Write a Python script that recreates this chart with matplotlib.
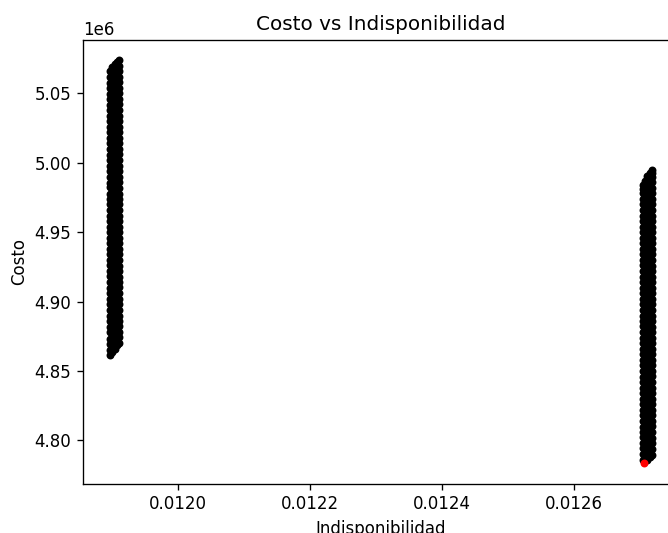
import numpy as np
import matplotlib
matplotlib.use("Agg")
import matplotlib.pyplot as plt

# cluster izquierdo (indisponibilidad ~0.01190), costo en millones
# cada lista de costos corresponde a un valor de indisponibilidad de izq_x
izq_x = [0.0118976, 0.0119011, 0.0119046, 0.0119081, 0.0119116]
izq_y1 = [4.8615, 4.8652, 4.8698, 4.8731, 4.8779, 4.8816, 4.8862, 4.8897, 4.8941, 4.8983,
          4.9018, 4.9064, 4.9099, 4.9142, 4.9185, 4.9221, 4.9263, 4.9298, 4.9344, 4.9381,
          4.9419, 4.9462, 4.9503, 4.9537, 4.9584, 4.9618, 4.9661, 4.9702, 4.9739, 4.9776,
          4.9823, 4.9858, 4.9897, 4.9943, 4.9978, 5.0021, 5.0059, 5.0098, 5.0142, 5.0177,
          5.0223, 5.0258, 5.0301, 5.0339, 5.0382, 5.0418, 5.0463, 5.0497, 5.0541, 5.0579,
          5.0618, 5.0660]
izq_y2 = [4.8638, 4.8679, 4.8721, 4.8760, 4.8801, 4.8842, 4.8880, 4.8919, 4.8962, 4.9001,
          4.9040, 4.9082, 4.9121, 4.9160, 4.9201, 4.9243, 4.9280, 4.9320, 4.9362, 4.9401,
          4.9440, 4.9481, 4.9522, 4.9560, 4.9601, 4.9640, 4.9681, 4.9721, 4.9760, 4.9800,
          4.9842, 4.9880, 4.9919, 4.9961, 5.0000, 5.0041, 5.0080, 5.0120, 5.0161, 5.0199,
          5.0240, 5.0281, 5.0320, 5.0360, 5.0401, 5.0440, 5.0480, 5.0521, 5.0560, 5.0599,
          5.0641, 5.0690]
izq_y3 = [4.8660, 4.8717, 4.8758, 4.8799, 4.8838, 4.8879, 4.8921, 4.8960, 4.9002, 4.9041,
          4.9083, 4.9120, 4.9163, 4.9204, 4.9242, 4.9281, 4.9322, 4.9363, 4.9400, 4.9441,
          4.9483, 4.9521, 4.9562, 4.9600, 4.9641, 4.9682, 4.9720, 4.9759, 4.9801, 4.9840,
          4.9879, 4.9921, 4.9960, 5.0001, 5.0040, 5.0079, 5.0121, 5.0160, 5.0200, 5.0241,
          5.0280, 5.0321, 5.0360, 5.0401, 5.0440, 5.0481, 5.0520, 5.0561, 5.0600, 5.0640,
          5.0680, 5.0712]
izq_y4 = [4.8691, 4.8739, 4.8778, 4.8820, 4.8859, 4.8900, 4.8938, 4.8979, 4.9021, 4.9060,
          4.9099, 4.9139, 4.9180, 4.9222, 4.9259, 4.9300, 4.9341, 4.9380, 4.9419, 4.9460,
          4.9499, 4.9541, 4.9580, 4.9619, 4.9661, 4.9700, 4.9739, 4.9780, 4.9820, 4.9859,
          4.9900, 4.9941, 4.9979, 5.0020, 5.0060, 5.0101, 5.0139, 5.0180, 5.0219, 5.0261,
          5.0300, 5.0339, 5.0381, 5.0420, 5.0459, 5.0500, 5.0541, 5.0579, 5.0620, 5.0660,
          5.0700, 5.0725]
izq_y5 = [4.8702, 4.8743, 4.8781, 4.8823, 4.8862, 4.8899, 4.8942, 4.8981, 4.9019, 4.9061,
          4.9102, 4.9140, 4.9179, 4.9223, 4.9260, 4.9301, 4.9340, 4.9382, 4.9421, 4.9459,
          4.9501, 4.9540, 4.9582, 4.9620, 4.9659, 4.9702, 4.9741, 4.9779, 4.9821, 4.9860,
          4.9900, 4.9942, 4.9980, 5.0019, 5.0061, 5.0100, 5.0140, 5.0179, 5.0222, 5.0260,
          5.0299, 5.0341, 5.0380, 5.0422, 5.0460, 5.0501, 5.0540, 5.0581, 5.0620, 5.0661,
          5.0699, 5.0738]

# cluster derecho (indisponibilidad ~0.01271)
der_x = [0.0127038, 0.0127073, 0.0127108, 0.0127143, 0.0127178]
der_y1 = [4.7862, 4.7901, 4.7943, 4.7980, 4.8022, 4.8061, 4.8099, 4.8142, 4.8181, 4.8219,
          4.8262, 4.8300, 4.8341, 4.8380, 4.8421, 4.8459, 4.8502, 4.8540, 4.8579, 4.8622,
          4.8661, 4.8700, 4.8741, 4.8779, 4.8821, 4.8860, 4.8899, 4.8941, 4.8980, 4.9021,
          4.9059, 4.9100, 4.9142, 4.9180, 4.9219, 4.9261, 4.9300, 4.9340, 4.9379, 4.9421,
          4.9460, 4.9500, 4.9541, 4.9579, 4.9620, 4.9661, 4.9700, 4.9740, 4.9781, 4.9812,
          4.9840]
der_y2 = [4.7881, 4.7919, 4.7961, 4.8000, 4.8040, 4.8081, 4.8119, 4.8160, 4.8201, 4.8240,
          4.8280, 4.8321, 4.8360, 4.8399, 4.8441, 4.8480, 4.8520, 4.8561, 4.8600, 4.8639,
          4.8680, 4.8721, 4.8760, 4.8799, 4.8840, 4.8881, 4.8919, 4.8960, 4.9001, 4.9041,
          4.9080, 4.9119, 4.9161, 4.9200, 4.9241, 4.9280, 4.9319, 4.9361, 4.9400, 4.9440,
          4.9481, 4.9520, 4.9560, 4.9599, 4.9641, 4.9680, 4.9721, 4.9761, 4.9800, 4.9838,
          4.9870]
der_y3 = [4.7862, 4.7921, 4.7960, 4.8001, 4.8042, 4.8080, 4.8120, 4.8161, 4.8200, 4.8239,
          4.8281, 4.8320, 4.8361, 4.8400, 4.8440, 4.8481, 4.8519, 4.8560, 4.8601, 4.8640,
          4.8681, 4.8719, 4.8760, 4.8800, 4.8841, 4.8880, 4.8920, 4.8961, 4.9000, 4.9040,
          4.9081, 4.9120, 4.9160, 4.9201, 4.9240, 4.9281, 4.9320, 4.9360, 4.9401, 4.9441,
          4.9480, 4.9520, 4.9561, 4.9600, 4.9640, 4.9681, 4.9720, 4.9760, 4.9801, 4.9840,
          4.9872, 4.9905]
der_y4 = [4.7879, 4.7918, 4.7959, 4.8001, 4.8039, 4.8080, 4.8121, 4.8159, 4.8199, 4.8241,
          4.8280, 4.8319, 4.8360, 4.8401, 4.8440, 4.8479, 4.8521, 4.8560, 4.8600, 4.8641,
          4.8679, 4.8720, 4.8761, 4.8800, 4.8839, 4.8880, 4.8920, 4.8960, 4.9000, 4.9039,
          4.9080, 4.9121, 4.9160, 4.9199, 4.9240, 4.9281, 4.9320, 4.9359, 4.9400, 4.9441,
          4.9480, 4.9519, 4.9560, 4.9601, 4.9640, 4.9680, 4.9720, 4.9759, 4.9800, 4.9840,
          4.9880, 4.9912, 4.9930]
der_y5 = [4.7897, 4.7938, 4.7979, 4.8020, 4.8059, 4.8101, 4.8140, 4.8180, 4.8221, 4.8260,
          4.8299, 4.8341, 4.8380, 4.8420, 4.8461, 4.8500, 4.8540, 4.8579, 4.8620, 4.8661,
          4.8700, 4.8739, 4.8780, 4.8820, 4.8861, 4.8900, 4.8939, 4.8980, 4.9021, 4.9060,
          4.9100, 4.9141, 4.9180, 4.9219, 4.9260, 4.9301, 4.9340, 4.9381, 4.9420, 4.9460,
          4.9500, 4.9541, 4.9580, 4.9620, 4.9661, 4.9700, 4.9741, 4.9780, 4.9820, 4.9861,
          4.9899, 4.9928, 4.9948]

# mejor solucion (punto rojo)
mejor_x = [0.0127055]
mejor_y = [4.7834]

fig = plt.figure(figsize=(668 / 120, 533 / 120), dpi=120)
ax = fig.add_axes([83 / 668, 49.4 / 533, 596 / 668, 443.3 / 533])

grupos = [(izq_x, [izq_y1, izq_y2, izq_y3, izq_y4, izq_y5]),
          (der_x, [der_y1, der_y2, der_y3, der_y4, der_y5])]
for xs, cols in grupos:
    for xv, ys in zip(xs, cols):
        ys = np.array(ys) * 1e6
        ax.scatter(np.full(len(ys), xv), ys, color="black", s=14)

ax.scatter(mejor_x, np.array(mejor_y) * 1e6, color="red", s=14)

ax.set_title("Costo vs Indisponibilidad")
ax.set_xlabel("Indisponibilidad")
ax.set_ylabel("Costo")

fig.savefig("out.png", dpi=120)
